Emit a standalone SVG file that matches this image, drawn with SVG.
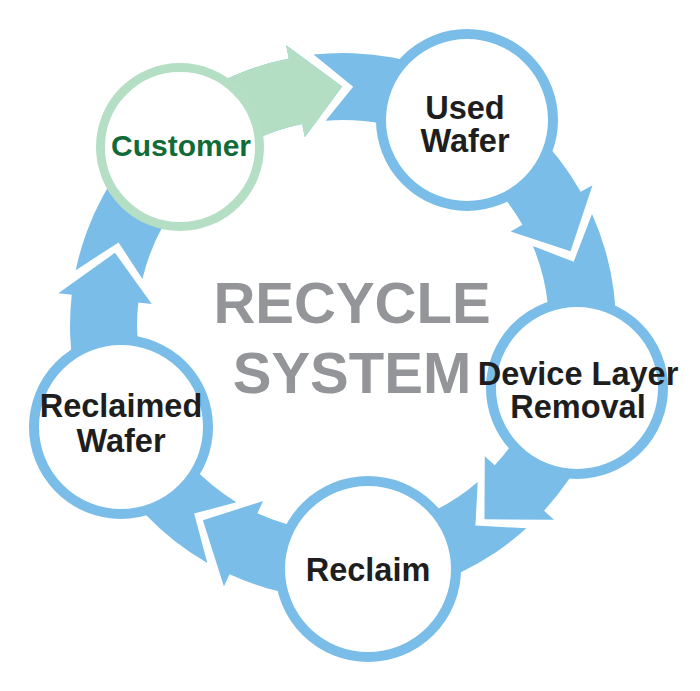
<svg xmlns="http://www.w3.org/2000/svg" width="700" height="691" viewBox="0 0 700 691">
<defs>
<style>
.lbl{font-family:"Liberation Sans",Arial,sans-serif;font-weight:bold;font-size:32.5px;fill:#1e1e1e;text-anchor:middle}
.ring{fill:#fff;stroke:#79bde8;stroke-width:10}
.title{font-family:"Liberation Sans",Arial,sans-serif;font-weight:bold;font-size:58px;fill:#939598;text-anchor:middle}
.blue{fill:#79bde8}
.green{fill:#b3dec4}
</style>
<path id="arr" d="M 56.79,-267.03 A 273 273 0 0 1 267.76,-53.22 L 281.0,-55.85 L 239.5,0 L 188.81,-37.53 L 202.05,-40.16 A 206 206 0 0 0 47.65,-200.42 L 84.38,-224.14 Z"/>
<path id="arrG" d="M 206.04,-179.10 A 273 273 0 0 1 267.76,-53.22 L 281.0,-55.85 L 239.5,0 L 188.81,-37.53 L 202.05,-40.16 A 206 206 0 0 0 155.47,-135.15 Z"/>
</defs>
<rect width="700" height="691" fill="#fff"/>
<g id="connectors">
<use href="#arr" class="blue" transform="translate(343,326) rotate(-90.2)"/>
<use href="#arr" class="blue" transform="translate(343,326) rotate(-18.2)"/>
<use href="#arr" class="blue" transform="translate(343,326) rotate(53.8)"/>
<use href="#arr" class="blue" transform="translate(343,326) rotate(125.8)"/>
<use href="#arr" class="blue" transform="translate(343,326) rotate(197.8)"/>
<use href="#arrG" class="green" transform="translate(343,326) rotate(-90.2)"/>
</g>
<g id="customer">
<circle cx="180" cy="147" r="79.5" fill="#fff" stroke="#b5dfc5" stroke-width="9"/>
<text class="lbl" x="181" y="156" style="font-size:30px;fill:#116b38">Customer</text>
</g>
<g id="used-wafer">
<circle class="ring" cx="467" cy="120" r="86"/>
<text class="lbl" x="465" y="119">Used</text>
<text class="lbl" x="465" y="152">Wafer</text>
</g>
<g id="device-layer-removal">
<circle class="ring" cx="577" cy="388" r="86"/>
<text class="lbl" x="578" y="385">Device Layer</text>
<text class="lbl" x="578" y="418">Removal</text>
</g>
<g id="reclaim">
<circle class="ring" cx="368" cy="569" r="88"/>
<text class="lbl" x="368" y="581">Reclaim</text>
</g>
<g id="reclaimed-wafer">
<circle class="ring" cx="121" cy="427" r="87"/>
<text class="lbl" x="121" y="417">Reclaimed</text>
<text class="lbl" x="121" y="452">Wafer</text>
</g>
<g id="title">
<text class="title" x="352" y="323">RECYCLE</text>
<text class="title" x="352" y="393">SYSTEM</text>
</g>
</svg>
